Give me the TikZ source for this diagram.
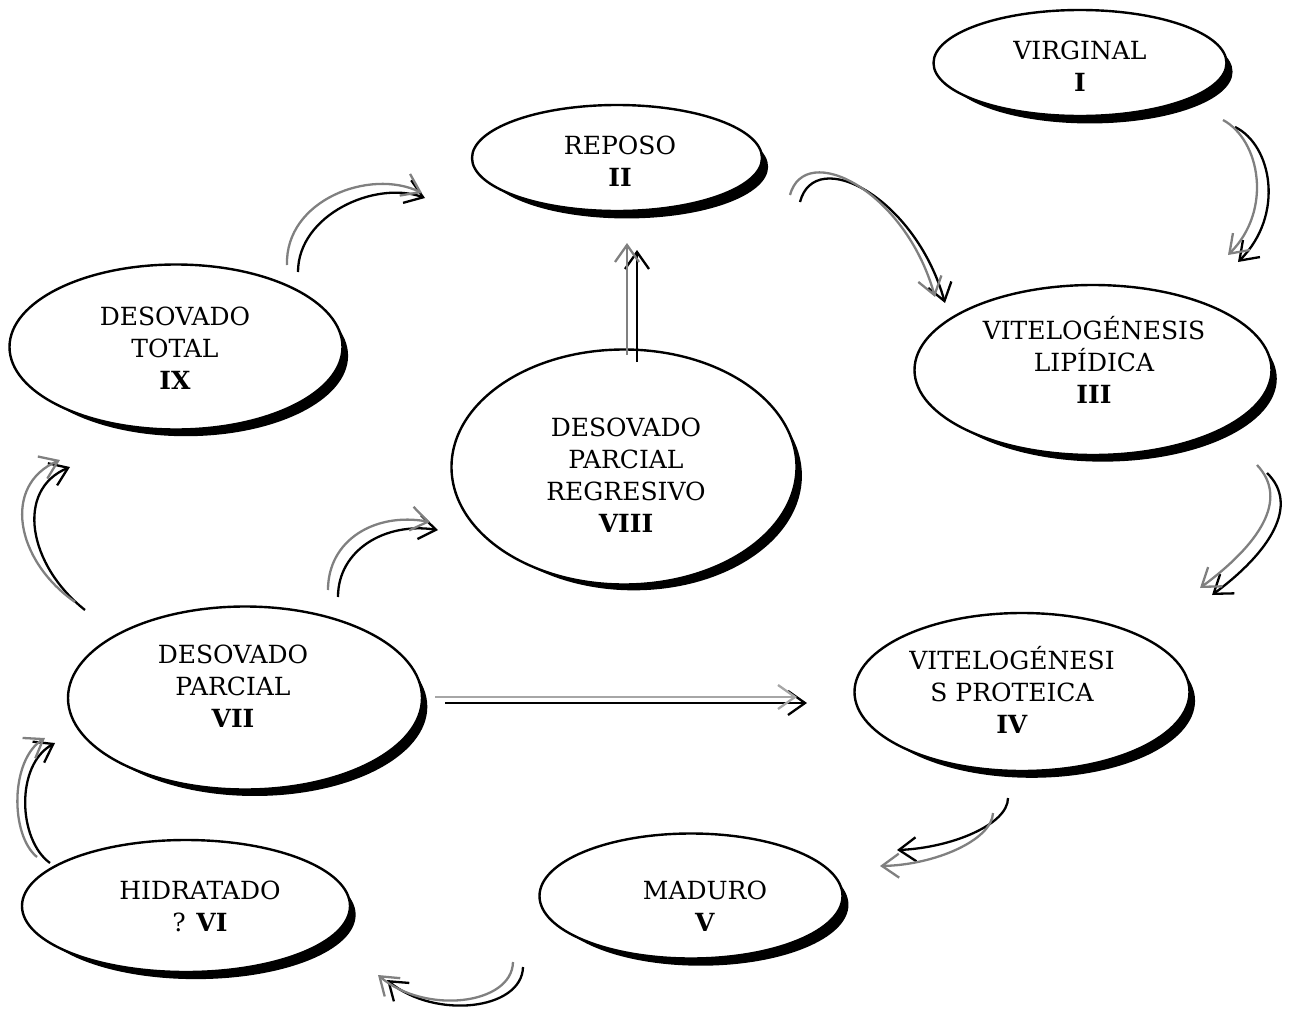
\documentclass[tikz,border=0pt]{standalone}
\usepackage{fontspec}
\setmainfont{DejaVu Serif}
\usetikzlibrary{shapes.geometric,shadows,arrows.meta}
\tikzset{
  stage/.style={ellipse, draw=black, line width=2.4pt, fill=white, inner sep=0pt,
    drop shadow={shadow xshift=10pt, shadow yshift=-9pt, shadow scale=0.975, fill=black, opacity=1}},
  lbl/.style={align=center, font=\fontsize{25}{32}\selectfont, inner sep=0pt},
  tipb/.style={-{Straight Barb[length=17pt,width=24pt]}},
  blk/.style={draw=black, line width=2.3pt, tipb},
  gry/.style={draw=black!50, line width=2.3pt, tipb},
  lgry/.style={draw=black!35, line width=2.3pt, tipb},
}
\begin{document}
\begin{tikzpicture}[x=1pt,y=-1pt]
\useasboundingbox (0,0) rectangle (1294,1012);

% stages
\node[stage, minimum width=293pt, minimum height=106pt] (s1) at (1080,63) {};
\node[lbl] (t1) at (1080,66) {VIRGINAL\\\textbf{I}};

\node[stage, minimum width=290pt, minimum height=106pt] (s2) at (617,158) {};
\node[lbl] (t2) at (620,161) {REPOSO\\\textbf{II}};

\node[stage, minimum width=357pt, minimum height=170pt] (s3) at (1093,370) {};
\node[lbl] (t3) at (1094,360) {VITELOGÉNESIS\\LIPÍDICA\\\textbf{III}};

\node[stage, minimum width=335pt, minimum height=158pt] (s4) at (1022,692) {};
\node[lbl] (t4) at (1012,690) {VITELOGÉNESI\\S PROTEICA\\\textbf{IV}};

\node[stage, minimum width=303pt, minimum height=125pt] (s5) at (691,896) {};
\node[lbl] (t5) at (705,906) {MADURO\\\textbf{V}};

\node[stage, minimum width=328pt, minimum height=132pt] (s6) at (186,906) {};
\node[lbl] (t6) at (200,906) {HIDRATADO\\? \textbf{VI}};

\node[stage, minimum width=354pt, minimum height=183pt] (s7) at (245,698) {};
\node[lbl] (t7) at (233,686) {DESOVADO\\PARCIAL\\\textbf{VII}};

\node[stage, minimum width=345pt, minimum height=235pt] (s8) at (624,467) {};
\node[lbl] (t8) at (626,475) {DESOVADO\\PARCIAL\\REGRESIVO\\\textbf{VIII}};

\node[stage, minimum width=333pt, minimum height=165pt] (s9) at (176,347) {};
\node[lbl] (t9) at (175,348) {DESOVADO\\TOTAL\\\textbf{IX}};

% arrow end points
\coordinate (a1gs) at (1223,120); \coordinate (a1ge) at (1228,255);
\coordinate (a1bs) at (1235,127); \coordinate (a1be) at (1238,262);
\coordinate (a2gs) at (790,195);  \coordinate (a2ge) at (935,297);
\coordinate (a2bs) at (800,202);  \coordinate (a2be) at (945,303);
\coordinate (a3gs) at (287,265);  \coordinate (a3ge) at (422,193);
\coordinate (a3bs) at (298,272);  \coordinate (a3be) at (425,198);
\coordinate (a4gs) at (627,355);  \coordinate (a4ge) at (627,243);
\coordinate (a4bs) at (637,362);  \coordinate (a4be) at (637,250);
\coordinate (a5gs) at (1257,465); \coordinate (a5ge) at (1200,588);
\coordinate (a5bs) at (1267,473); \coordinate (a5be) at (1212,595);
\coordinate (a6gs) at (328,590);  \coordinate (a6ge) at (430,522);
\coordinate (a6bs) at (338,597);  \coordinate (a6be) at (438,530);
\coordinate (a7gs) at (75,602);   \coordinate (a7ge) at (60,460);
\coordinate (a7bs) at (85,610);   \coordinate (a7be) at (70,467);
\coordinate (a8gs) at (435,697);  \coordinate (a8ge) at (797,697);
\coordinate (a8bs) at (445,703);  \coordinate (a8be) at (807,703);
\coordinate (a9gs) at (993,813);  \coordinate (a9ge) at (880,866);
\coordinate (a9bs) at (1008,798); \coordinate (a9be) at (897,850);
\coordinate (a10gs) at (513,962); \coordinate (a10ge) at (378,975);
\coordinate (a10bs) at (523,967); \coordinate (a10be) at (387,980);
\coordinate (a11gs) at (37,857);  \coordinate (a11ge) at (45,738);
\coordinate (a11bs) at (50,863);  \coordinate (a11be) at (55,743);

% I -> III
\draw[blk] (a1bs) .. controls (1272,145) and (1285,215) .. (a1be);
\draw[gry] (a1gs) .. controls (1260,140) and (1273,210) .. (a1ge);
% II -> III
\draw[blk] (a2bs) .. controls (815,145) and (915,197) .. (a2be);
\draw[gry] (a2gs) .. controls (805,140) and (905,190) .. (a2ge);
% IX -> II
\draw[blk] (a3bs) .. controls (298,215) and (375,180) .. (a3be);
\draw[gry] (a3gs) .. controls (285,200) and (370,168) .. (a3ge);
% VIII -> II
\draw[blk] (a4bs) -- (a4be);
\draw[gry] (a4gs) -- (a4ge);
% III -> IV
\draw[blk] (a5bs) .. controls (1300,505) and (1270,552) .. (a5be);
\draw[gry] (a5gs) .. controls (1290,500) and (1258,545) .. (a5ge);
% VII -> VIII
\draw[blk] (a6bs) .. controls (338,550) and (385,522) .. (a6be);
\draw[gry] (a6gs) .. controls (328,540) and (375,512) .. (a6ge);
% VII -> IX
\draw[blk] (a7bs) .. controls (28,565) and (15,490) .. (a7be);
\draw[gry] (a7gs) .. controls (15,560) and (2,485) .. (a7ge);
% VII -> IV
\draw[blk] (a8bs) -- (a8be);
\draw[lgry] (a8gs) -- (a8ge);
% IV -> V
\draw[blk] (a9bs) .. controls (1008,825) and (950,848) .. (a9be);
\draw[gry] (a9gs) .. controls (992,840) and (935,865) .. (a9ge);
% V -> VI
\draw[blk] (a10bs) .. controls (522,1010) and (435,1020) .. (a10be);
\draw[gry] (a10gs) .. controls (512,1005) and (425,1015) .. (a10ge);
% VI -> VII
\draw[blk] (a11bs) .. controls (18,840) and (15,765) .. (a11be);
\draw[gry] (a11gs) .. controls (10,835) and (10,760) .. (a11ge);
\end{tikzpicture}
\end{document}
